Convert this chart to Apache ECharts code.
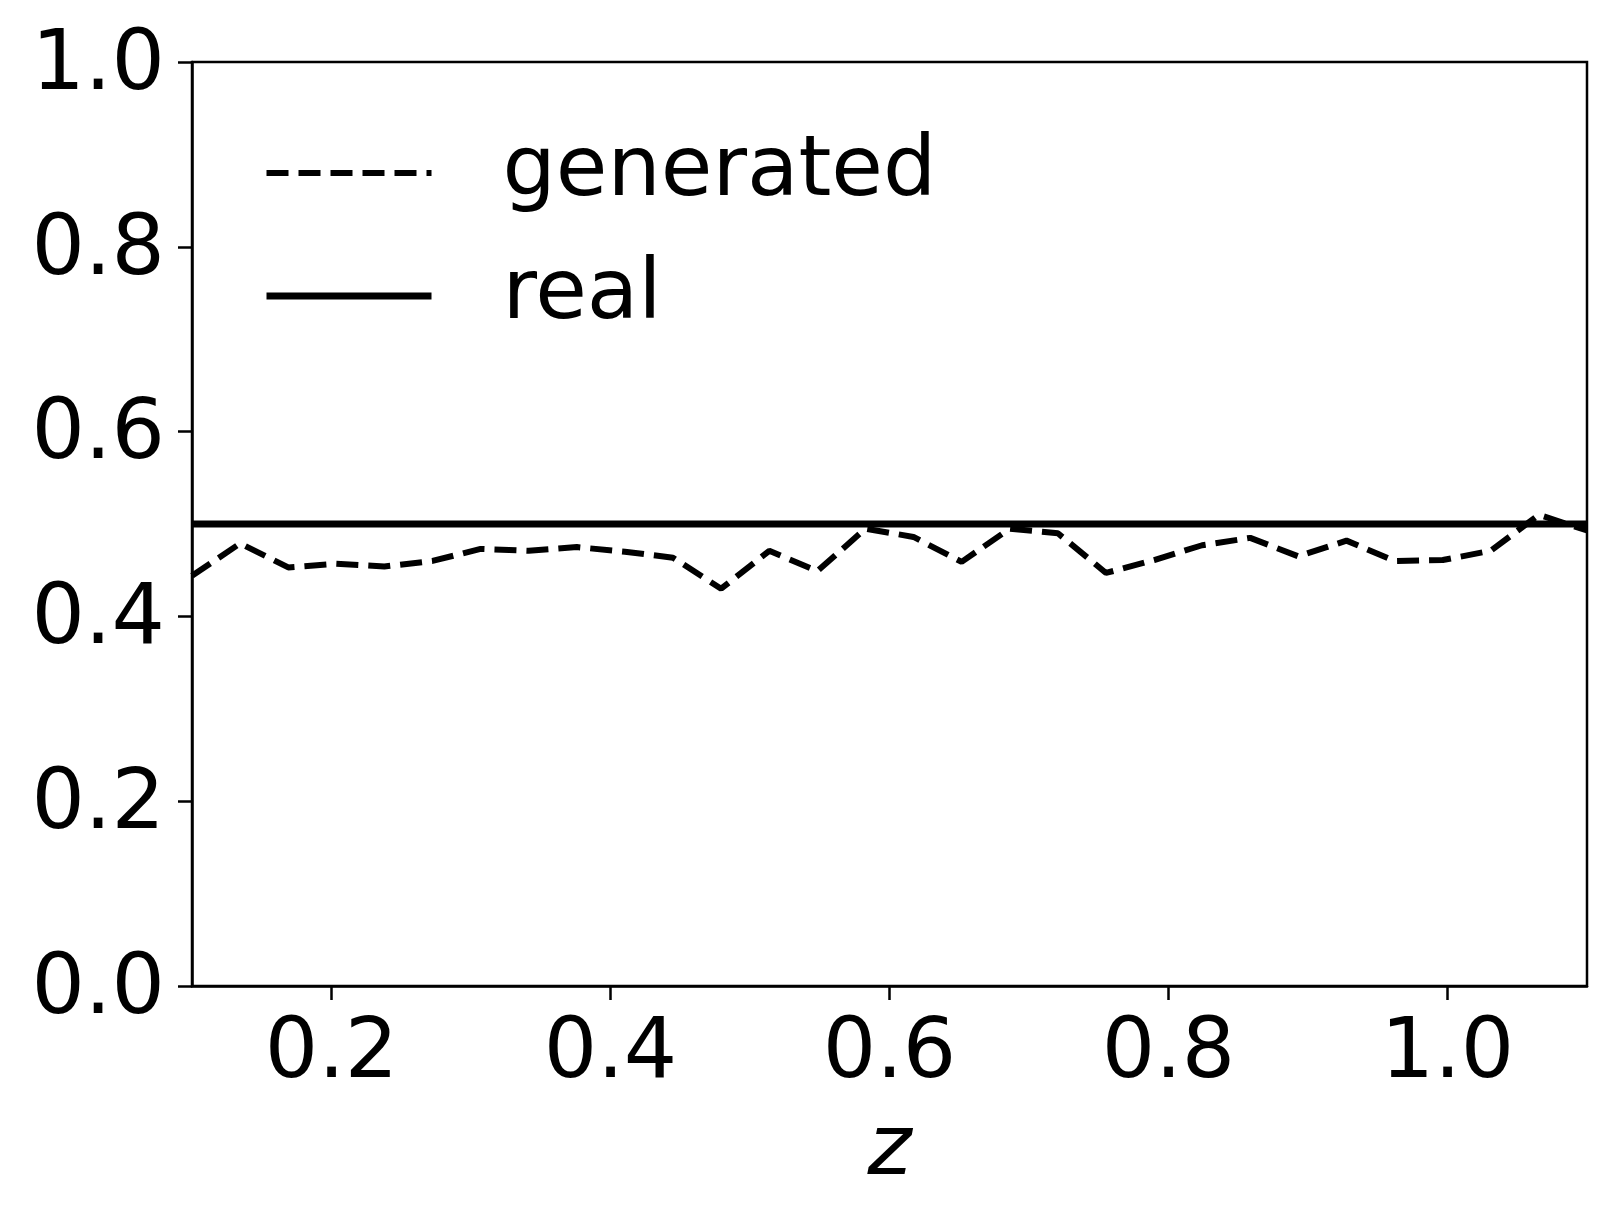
<!DOCTYPE html>
<html>
<head>
<meta charset="utf-8">
<script src="https://cdn.jsdelivr.net/npm/echarts@6/dist/echarts.min.js"></script>
<style>
html,body{margin:0;padding:0;background:#fff;}
#chart{width:1616px;height:1223px;}
</style>
</head>
<body>
<div id="chart"></div>
<script>
const zValues = [0.1000,0.1345,0.1690,0.2034,0.2379,0.2724,0.3069,0.3414,0.3759,0.4103,
                 0.4448,0.4793,0.5138,0.5483,0.5828,0.6172,0.6517,0.6862,0.7207,0.7552,
                 0.7897,0.8241,0.8586,0.8931,0.9276,0.9621,0.9966,1.0310,1.0655,1.1000];
const generatedValues = [0.444,0.479,0.453,0.457,0.454,0.460,0.473,0.471,0.475,0.470,
                         0.4635,0.430,0.471,0.449,0.495,0.486,0.459,0.495,0.490,0.447,
                         0.461,0.477,0.485,0.465,0.482,0.460,0.461,0.471,0.510,0.493];
const realZ = [0.1, 1.1];
const realValues = [0.5, 0.5];
const xTicks = [0.2, 0.4, 0.6, 0.8, 1.0];
const yTicks = [0.0, 0.2, 0.4, 0.6, 0.8, 1.0];
const seriesNames = ['generated', 'real'];

const FONT = 'DejaVu Sans';
const FS = 84;
const chart = echarts.init(document.getElementById('chart'), null, {renderer:'canvas'});
chart.setOption({
  animation: false,
  backgroundColor: '#fff',
  grid: {left:192, right:29, top:62, bottom:237, show:true, borderColor:'#000', borderWidth:2.5, backgroundColor:'transparent'},
  legend: {
    orient:'vertical', left:258, top:118, itemWidth:165, itemHeight:30, itemGap:23,
    textStyle:{fontFamily:FONT, fontSize:FS, color:'#000', lineHeight:100, padding:[0,0,0,66]},
    itemStyle:{opacity:0},
    data: [
      {name:seriesNames[0], itemStyle:{opacity:0}, lineStyle:{color:'#000', width:6, type:[22,10]}},
      {name:seriesNames[1], itemStyle:{opacity:0}, lineStyle:{color:'#000', width:7, type:'solid'}}
    ]
  },
  xAxis: {
    type:'value', min:0.1, max:1.1,
    name:'z', nameLocation:'middle', nameGap:124,
    nameTextStyle:{fontFamily:FONT, fontSize:FS, fontStyle:'italic', color:'#000'},
    axisLine:{show:true, onZero:false, lineStyle:{color:'#000', width:2.5}},
    axisTick:{show:true, length:14, lineStyle:{color:'#000', width:2.5}, customValues: xTicks},
    axisLabel:{fontFamily:FONT, fontSize:FS, color:'#000', margin:27, customValues: xTicks,
               formatter: v => v.toFixed(1)},
    splitLine:{show:false}
  },
  yAxis: {
    type:'value', min:0, max:1, interval:0.2,
    axisLine:{show:true, lineStyle:{color:'#000', width:2.5}},
    axisTick:{show:true, length:14, lineStyle:{color:'#000', width:2.5}},
    axisLabel:{fontFamily:FONT, fontSize:FS, color:'#000', margin:27, customValues: yTicks,
               formatter: v => '{a|' + v.toFixed(1) + '}',
               rich:{a:{fontFamily:FONT, fontSize:FS, color:'#000', padding:[10,0,0,0]}}},
    splitLine:{show:false}
  },
  series: [
    {name:seriesNames[0], type:'line', symbol:'none', data: zValues.map((z,i)=>[z, generatedValues[i]]),
     lineStyle:{color:'#000', width:6, type:[22,10]}, itemStyle:{color:'#000'}},
    {name:seriesNames[1], type:'line', symbol:'none', data: realZ.map((z,i)=>[z, realValues[i]]),
     lineStyle:{color:'#000', width:7, type:'solid'}, itemStyle:{color:'#000'}}
  ]
});
</script>
</body>
</html>
